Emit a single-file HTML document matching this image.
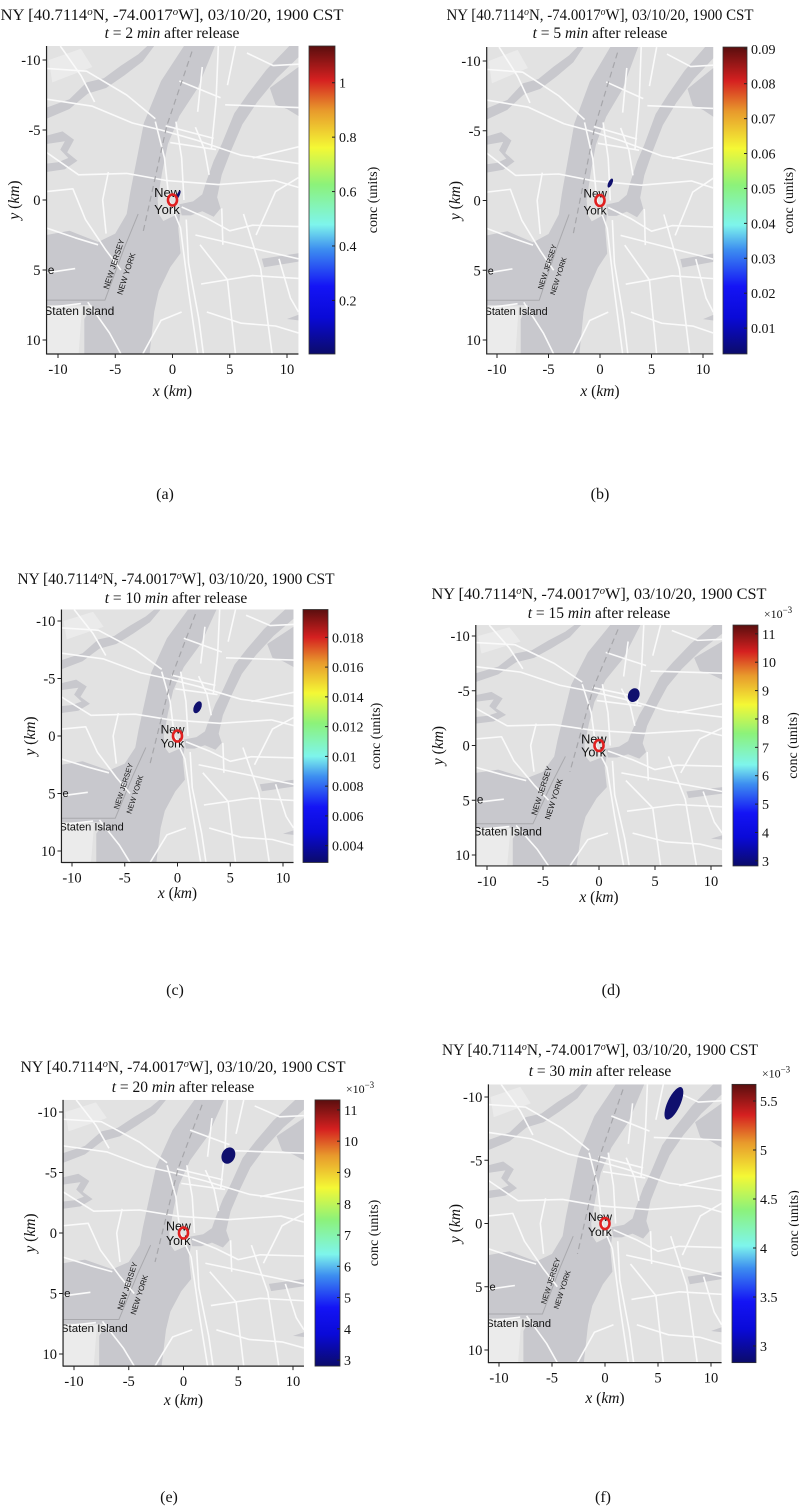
<!DOCTYPE html>
<html><head><meta charset="utf-8">
<style>
html,body{margin:0;padding:0;background:#fff;}
svg{display:block;}
text{font-family:"Liberation Serif",serif;fill:#111;}
.map text{font-family:"Liberation Sans",sans-serif;}
</style></head>
<body>
<svg id="fig" width="799" height="1511" viewBox="0 0 799 1511" xmlns="http://www.w3.org/2000/svg">
<defs>
<linearGradient id="jet" x1="0" y1="1" x2="0" y2="0">
<stop offset="0" stop-color="#0b0b6a"/>
<stop offset="0.12" stop-color="#0a0ad8"/>
<stop offset="0.22" stop-color="#1414f5"/>
<stop offset="0.34" stop-color="#3d8ef0"/>
<stop offset="0.42" stop-color="#7ef5ec"/>
<stop offset="0.55" stop-color="#8cf27a"/>
<stop offset="0.67" stop-color="#f4f835"/>
<stop offset="0.79" stop-color="#e89a2c"/>
<stop offset="0.89" stop-color="#d52020"/>
<stop offset="1" stop-color="#5a0e0e"/>
</linearGradient>
</defs>
</svg>
<script>
// ---- data ----
const panelIds = ['a','b','c','d','e','f'];
const times = [2, 5, 10, 15, 20, 30];
const cbMin = [0.003, 0.0026, 0.00287, 2.82, 2.81, 2.83];
const cbMax = [1.135, 0.0905, 0.01987, 11.31, 11.32, 5.67];
const cbTicks = [
  [0.2,0.4,0.6,0.8,1],
  [0.01,0.02,0.03,0.04,0.05,0.06,0.07,0.08,0.09],
  [0.004,0.006,0.008,0.01,0.012,0.014,0.016,0.018],
  [3,4,5,6,7,8,9,10,11],
  [3,4,5,6,7,8,9,10,11],
  [3,3.5,4,4.5,5,5.5]
];
const cbTickLabels = [
  ['0.2','0.4','0.6','0.8','1'],
  ['0.01','0.02','0.03','0.04','0.05','0.06','0.07','0.08','0.09'],
  ['0.004','0.006','0.008','0.01','0.012','0.014','0.016','0.018'],
  ['3','4','5','6','7','8','9','10','11'],
  ['3','4','5','6','7','8','9','10','11'],
  ['3','3.5','4','4.5','5','5.5']
];
const cbExp = [false,false,false,true,true,true];
const axisTicks = [-10,-5,0,5,10];
const axisTickLabels = ['-10','-5','0','5','10'];
// plume centre (km), half-sizes (km)
const plumeX = [0.5, 1.0, 1.9, 3.1, 4.1, 6.5];
const plumeY = [-0.35, -1.25, -2.5, -4.6, -6.4, -9.5];
const plumeW = [0.12, 0.2, 0.35, 0.5, 0.6, 0.6];
const plumeH = [0.35, 0.35, 0.55, 0.65, 0.7, 1.4];

// ---- layout (pixel geometry, not data) ----
const L = {
 a:{xm:58,xp:287,ym:60,yp:340,cbx:309,cbw:26,cl:37,tx:172,t1:20,t2:38,tl1:343,xl:396,yl:14,cap:[165,499]},
 b:{xm:497,xp:703,ym:61,yp:340,cbx:723,cbw:24,cl:41,tx:600,t1:20,t2:38,tl1:307,xl:396,yl:455,cap:[600,499]},
 c:{xm:72,xp:283,ym:621,yp:851,cbx:303,cbw:25,cl:47,tx:176,t1:584,t2:603,tl1:317,xl:898,yl:30,cap:[175,995]},
 d:{xm:487,xp:711,ym:636,yp:855,cbx:733,cbw:25,cl:34,tx:599,t1:599,t2:618,tl1:335,xl:902,yl:438,cap:[611,995]},
 e:{xm:74,xp:293,ym:1112,yp:1354,cbx:315,cbw:25,cl:33,tx:183,t1:1072,t2:1092,tl1:325,xl:1405,yl:30,cap:[169,1502]},
 f:{xm:499,xp:711,ym:1097,yp:1350,cbx:732,cbw:24,cl:37,tx:600,t1:1055,t2:1076,tl1:316,xl:1403,yl:455,cap:[603,1502]}
};
const NS='http://www.w3.org/2000/svg';
const fig=document.getElementById('fig');
function el(tag,attrs,parent){const e=document.createElementNS(NS,tag);for(const k in attrs)e.setAttribute(k,attrs[k]);(parent||fig).appendChild(e);return e;}

const water=[
 "1.0,-11 3.7,-11 2.2,-8 0.6,-6 -0.4,-4 -0.9,-2 -1.3,0 -1.2,1 -0.8,1.5 0.7,0.9 0.5,2 0.7,3.8 -0.2,4.8 -1.2,6.5 -1.6,8 -2.0,11 -7.7,11 -7.7,8.5 -7,7.5 -11,7.5 -11,2.5 -9,2.2 -6.5,3 -5,2.4 -4,1 -3.7,-0.5 -3.1,-3 -2.5,-5.5 -1,-8.5",
 "0.6,0.3 1.8,0.1 2.6,-0.4 2.9,-1.2 3.6,-2.8 4.3,-4 5.4,-6.2 6.6,-7.6 8.2,-9.3 10.2,-11 11,-11 11,-10.2 9.1,-8.7 7.4,-7 6.1,-5.4 5.1,-3.5 4.3,-1.8 3.9,-0.2 4.2,0.6 3.6,1.2 2.6,0.8 1.6,1.1 0.8,1.1",
 "-11,-6.6 -9,-7.2 -7.5,-8.4 -6,-8.7 -4.5,-9.6 -3,-10.4 -2.2,-11 -1.6,-11 -2.6,-9.9 -4.2,-8.9 -5.8,-8.0 -7.4,-7.6 -9,-6.5 -11,-5.8",
 "-11,-4.6 -9.6,-4.9 -8.6,-4.3 -9.2,-3.4 -8.3,-2.8 -9.4,-2.2 -11,-2.0 -11,-2.6 -10,-2.7 -9.1,-3.0 -9.8,-3.6 -9.4,-4.2 -11,-4.0",
 "8.5,-8 11,-9.5 11,-6 10,-6.5 9,-6.8",
 "7.8,4.2 11,3.8 11,4.4 8,4.8",
 "10,8.5 11,8.2 11,8.6"
];
const landLight=[
 "-11,7.6 -7.9,7.6 -8.2,11 -11,11",
 "-10.8,-10 -8,-10.8 -7,-9.5 -10.5,-8.4",
 "1,-9.5 2,-9.8 2,-8.8 1.2,-8.6"
];
const roads=[
 "-11,-3.4 -8.2,-1.8 -4,-1.9 -0.6,-1.4 4,-1.1 8.9,-1.4 11,-0.9",
 "-11,-7.2 -7,-6.7 -3.5,-5.5 -1,-5 2,-4.3 6,-3.2 11,-2.6",
 "-11,-9.4 -7.5,-9.2 -4,-7.5 -1.5,-5.8",
 "-9.8,-11 -8,-8.9 -6.8,-7",
 "-1.5,-5.6 -0.7,-3 -0.3,0 0.7,2 1.4,6.5 2.2,11",
 "0.3,-5.6 0.8,-3 1,0",
 "2,-5.2 2.8,-3.6 3.2,-1.8",
 "-0.6,-5.3 3.6,-4.4",
 "-0.2,-4.1 3.8,-3.6",
 "0.6,-8.5 4.2,-7.3",
 "2.6,-9.5 2.2,-6.3",
 "4,-11 3.8,-7 3.4,-3.7",
 "5.5,-11 4.8,-8.2",
 "6.5,-10.5 8.8,-9.6 11,-9.7",
 "4.6,-6.8 11,-6.6",
 "7,-3 11,-3.8",
 "-11,-0.6 -8.7,-0.8 -7.6,1.4 -5.8,3.6 -4.5,5",
 "-11,2 -8.5,2.7 -6.5,3.2",
 "-5.6,-2 -6.1,0 -5.8,2.4",
 "0.8,0.5 3,1.3 5,2.2 7,1.8 11,1.9",
 "1.2,1.4 1.4,4.5 2.3,8.5 2.7,11",
 "2,2.5 11,4.2",
 "2.4,3.2 4.8,5.7 5.5,11",
 "4.3,0.6 4.4,3.2",
 "2.5,6 7,5.4 11,5.6",
 "6.2,1 7.7,4.9 8.7,11",
 "7.3,2.5 9,-0.6 11,-1.6",
 "9.3,4.2 10.3,7 11,8",
 "3,8 6,8.8 9,9 11,9.5",
 "-7.4,7.3 -5.5,9.5 -4.5,11",
 "-11,7.7 -8,7.4",
 "-2.6,11 -1,8.6 0.8,8",
 "-11,5.2 -8.5,4.9"
];
const dashed="1.7,-10.6 -0.5,-5.3 -2.6,2.4";
const border="-11,7.15 -5.9,7.15 -4.2,3.4 -3.0,1.0";

panelIds.forEach((id,i)=>{
  const g=L[id];
  const kx=(g.xp-g.xm)/20, ky=(g.yp-g.ym)/20;
  const X=v=>g.xm+(v+10)*kx;
  const Y=v=>g.ym+(v+10)*ky;
  const left=X(-11), right=X(11), top=Y(-11), bot=Y(11);
  const P=el('g',{});
  
  

  const t1=el('text',{x:g.tx,y:g.t1,'text-anchor':'middle','font-size':'15.5',textLength:g.tl1,lengthAdjust:'spacingAndGlyphs'},P);
  
  
  t1.innerHTML='NY [40.7114<tspan baseline-shift="super" font-size="10" font-style="italic">o</tspan>N, -74.0017<tspan baseline-shift="super" font-size="10" font-style="italic">o</tspan>W], 03/10/20, 1900 CST';
  const t2=el('text',{x:g.tx,y:g.t2,'text-anchor':'middle','font-size':'15.5'},P);
  
  
  t2.innerHTML='<tspan font-style="italic">t</tspan> = '+times[i]+' <tspan font-style="italic">min</tspan>  after release';

  const cid='clip'+id;
  const cp=el('clipPath',{id:cid},P);
  el('rect',{x:left,y:top,width:right-left,height:bot-top},cp);
  const M=el('g',{'clip-path':'url(#'+cid+')','class':'map'},P);
  
  
  el('rect',{x:left,y:top,width:right-left,height:bot-top,fill:'#e2e2e2'},M);
  const K=el('g',{transform:`translate(${X(0)},${Y(0)}) scale(${kx},${ky})`},M);
  landLight.forEach(p=>el('polygon',{points:p,fill:'#ebebeb'},K));
  water.forEach(p=>el('polygon',{points:p,fill:'#c8c8cd'},K));
  el('polyline',{points:border,fill:'none',stroke:'#a9a9ad','stroke-width':1,'vector-effect':'non-scaling-stroke'},K);
  roads.forEach(p=>el('polyline',{points:p,fill:'none',stroke:'#fafafa','stroke-width':1.6,'stroke-linejoin':'round','vector-effect':'non-scaling-stroke'},K));
  el('polyline',{points:dashed,fill:'none',stroke:'#a6a6aa','stroke-width':1.2,'stroke-dasharray':'6 4','vector-effect':'non-scaling-stroke'},K);
  const sx=kx/11.45;
  el('text',{x:X(-1.6),y:Y(-0.2),'font-size':13*sx,fill:'#444'},M).textContent='New';
  el('text',{x:X(-1.6),y:Y(1.0),'font-size':13*sx,fill:'#444'},M).textContent='York';
  el('text',{x:X(-11.2),y:Y(8.2),'font-size':12*sx,fill:'#444'},M).textContent='Staten Island';
  el('text',{x:X(-10.9),y:Y(5.3),'font-size':12*sx,fill:'#444'},M).textContent='e';
  el('text',{x:0,y:0,'font-size':8*sx,fill:'#9a9a9e',transform:`translate(${X(-5.6)},${Y(6.4)}) rotate(-72)`},M).textContent='NEW JERSEY';
  el('text',{x:0,y:0,'font-size':8*sx,fill:'#9a9a9e',transform:`translate(${X(-4.4)},${Y(6.8)}) rotate(-72)`},M).textContent='NEW YORK';

  const pl=el('ellipse',{cx:X(plumeX[i]),cy:Y(plumeY[i]),rx:plumeW[i]*kx,ry:plumeH[i]*ky,fill:'#10106e',transform:`rotate(25 ${X(plumeX[i])} ${Y(plumeY[i])})`},M);
  
  
  const rm=el('ellipse',{cx:X(0),cy:Y(0),rx:4.5,ry:5.5,fill:'none',stroke:'#e02020','stroke-width':2.6},M);
  
  

  el('line',{x1:left,y1:top,x2:left,y2:bot+0.5,stroke:'#222','stroke-width':1.2},P);
  el('line',{x1:left,y1:bot,x2:right,y2:bot,stroke:'#222','stroke-width':1.2},P);
  axisTicks.forEach((t,j)=>{
    el('line',{x1:X(t),y1:bot,x2:X(t),y2:bot+4,stroke:'#222'},P);
    const xt=el('text',{x:X(t),y:bot+20,'text-anchor':'middle','font-size':'14.5'},P);
    
    
    xt.textContent=axisTickLabels[j];
    el('line',{x1:left-4,y1:Y(t),x2:left,y2:Y(t),stroke:'#222'},P);
    const yt=el('text',{x:left-6,y:Y(t)+5,'text-anchor':'end','font-size':'14.5'},P);
    
    
    yt.textContent=axisTickLabels[j];
  });
  const xl=el('text',{x:(left+right)/2,y:g.xl,'text-anchor':'middle','font-size':'15.5'},P);
  
  
  xl.innerHTML='<tspan font-style="italic">x</tspan> (<tspan font-style="italic">km</tspan>)';
  const yl=el('text',{x:0,y:0,'text-anchor':'middle','font-size':'15.5',transform:`translate(${g.yl+5},${(top+bot)/2}) rotate(-90)`},P);
  
  
  yl.innerHTML='<tspan font-style="italic">y</tspan> (<tspan font-style="italic">km</tspan>)';

  const cb=el('rect',{x:g.cbx,y:top,width:g.cbw,height:bot-top,fill:'url(#jet)',stroke:'#333','stroke-width':0.8},P);
  
  
  const C=v=>bot-(v-cbMin[i])/(cbMax[i]-cbMin[i])*(bot-top);
  cbTicks[i].forEach((t,j)=>{
    el('line',{x1:g.cbx+g.cbw-3,y1:C(t),x2:g.cbx+g.cbw,y2:C(t),stroke:'#222'},P);
    const ct=el('text',{x:g.cbx+g.cbw+4,y:C(t)+5,'font-size':'14'},P);
    
    
    ct.textContent=cbTickLabels[i][j];
  });
  if(cbExp[i]){
    const ex=el('text',{x:g.cbx+g.cbw+20,y:top-7,'text-anchor':'middle','font-size':'12'},P);
    
    
    ex.innerHTML='×10<tspan baseline-shift="super" font-size="9">−3</tspan>';
  }
  const cl=el('text',{x:0,y:0,'text-anchor':'middle','font-size':'14',transform:`translate(${g.cbx+g.cbw+g.cl+5},${(top+bot)/2}) rotate(-90)`},P);
  
  
  cl.textContent='conc (units)';

  const cap=el('text',{x:g.cap[0],y:g.cap[1],'text-anchor':'middle','font-size':'16'},P);
  
  
  cap.textContent='('+id+')';
});
</script>
</body></html>
